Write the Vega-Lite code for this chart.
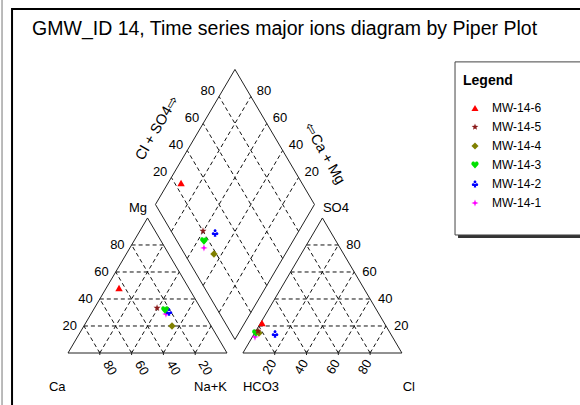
{
  "$schema": "https://vega.github.io/schema/vega-lite/v6.json",
  "width": 580,
  "height": 405,
  "padding": 0,
  "autosize": {"type": "none"},
  "background": "white",
  "config": {"view": {"stroke": null}, "font": "Liberation Sans", "text": {"font": "Liberation Sans", "color": "black"}},
  "datasets": {
    "frame": [{"x": -35.2, "y": 220.7, "x2": 330, "y2": -40}],
    "edge": [{"x": -41.5, "y": -40, "y2": 230}],
    "shadow": [{"x": 245.3, "y": 184.8, "x2": 330, "y2": 73.8}],
    "legbox": [{"x": 243.4, "y": 186.7, "x2": 330, "y2": 75.7}],
    "outline": [
      {"x": 0, "y": 0, "x2": 100, "y2": 0}, {"x": 100, "y": 0, "x2": 50, "y2": 86.6}, {"x": 50, "y": 86.6, "x2": 0, "y2": 0},
      {"x": 110, "y": 0, "x2": 210, "y2": 0}, {"x": 210, "y": 0, "x2": 160, "y2": 86.6}, {"x": 160, "y": 86.6, "x2": 110, "y2": 0},
      {"x": 105, "y": 8.66, "x2": 55, "y2": 95.26}, {"x": 55, "y": 95.26, "x2": 105, "y2": 181.87},
      {"x": 105, "y": 181.87, "x2": 155, "y2": 95.26}, {"x": 155, "y": 95.26, "x2": 105, "y2": 8.66}
    ],
    "grid": [
      {"x": 10, "y": 17.32, "x2": 90, "y2": 17.32}, {"x": 20, "y": 34.64, "x2": 80, "y2": 34.64}, {"x": 30, "y": 51.96, "x2": 70, "y2": 51.96}, {"x": 40, "y": 69.28, "x2": 60, "y2": 69.28},
      {"x": 20, "y": 0, "x2": 60, "y2": 69.28}, {"x": 40, "y": 0, "x2": 70, "y2": 51.96}, {"x": 60, "y": 0, "x2": 80, "y2": 34.64}, {"x": 80, "y": 0, "x2": 90, "y2": 17.32},
      {"x": 20, "y": 0, "x2": 10, "y2": 17.32}, {"x": 40, "y": 0, "x2": 20, "y2": 34.64}, {"x": 60, "y": 0, "x2": 30, "y2": 51.96}, {"x": 80, "y": 0, "x2": 40, "y2": 69.28},
      {"x": 120, "y": 17.32, "x2": 200, "y2": 17.32}, {"x": 130, "y": 34.64, "x2": 190, "y2": 34.64}, {"x": 140, "y": 51.96, "x2": 180, "y2": 51.96}, {"x": 150, "y": 69.28, "x2": 170, "y2": 69.28},
      {"x": 130, "y": 0, "x2": 170, "y2": 69.28}, {"x": 150, "y": 0, "x2": 180, "y2": 51.96}, {"x": 170, "y": 0, "x2": 190, "y2": 34.64}, {"x": 190, "y": 0, "x2": 200, "y2": 17.32},
      {"x": 130, "y": 0, "x2": 120, "y2": 17.32}, {"x": 150, "y": 0, "x2": 130, "y2": 34.64}, {"x": 170, "y": 0, "x2": 140, "y2": 51.96}, {"x": 190, "y": 0, "x2": 150, "y2": 69.28},
      {"x": 115, "y": 25.98, "x2": 65, "y2": 112.58}, {"x": 125, "y": 43.3, "x2": 75, "y2": 129.9}, {"x": 135, "y": 60.62, "x2": 85, "y2": 147.22}, {"x": 145, "y": 77.94, "x2": 95, "y2": 164.54},
      {"x": 95, "y": 25.98, "x2": 145, "y2": 112.58}, {"x": 85, "y": 43.3, "x2": 135, "y2": 129.9}, {"x": 75, "y": 60.62, "x2": 125, "y2": 147.22}, {"x": 65, "y": 77.94, "x2": 115, "y2": 164.54}
    ],
    "ticks": [
      {"x": 20, "y": 1, "y2": -1.3}, {"x": 40, "y": 1, "y2": -1.3}, {"x": 60, "y": 1, "y2": -1.3}, {"x": 80, "y": 1, "y2": -1.3},
      {"x": 130, "y": 1, "y2": -1.3}, {"x": 150, "y": 1, "y2": -1.3}, {"x": 170, "y": 1, "y2": -1.3}, {"x": 190, "y": 1, "y2": -1.3}
    ],
    "title": [{"x": -22.6, "y": 204, "text": "GMW_ID 14, Time series major ions diagram by Piper Plot"}],
    "namesL": [{"x": -12, "y": -24.4, "text": "Ca"}, {"x": 110, "y": -24.4, "text": "HCO3"}, {"x": 210.5, "y": -24.4, "text": "Cl"}, {"x": 160.3, "y": 90.4, "text": "SO4"}],
    "namesR": [{"x": 100, "y": -24.4, "text": "Na+K"}, {"x": 49.7, "y": 90.4, "text": "Mg"}],
    "mgLab": [{"x": 10, "y": 17.32, "text": "20"}, {"x": 20, "y": 34.64, "text": "40"}, {"x": 30, "y": 51.96, "text": "60"}, {"x": 40, "y": 69.28, "text": "80"}],
    "so4Lab": [{"x": 200, "y": 17.32, "text": "20"}, {"x": 190, "y": 34.64, "text": "40"}, {"x": 180, "y": 51.96, "text": "60"}, {"x": 170, "y": 69.28, "text": "80"}],
    "caLab": [{"x": 20, "y": 0, "text": "80"}, {"x": 40, "y": 0, "text": "60"}, {"x": 60, "y": 0, "text": "40"}, {"x": 80, "y": 0, "text": "20"}],
    "clLab": [{"x": 130, "y": 0, "text": "20"}, {"x": 150, "y": 0, "text": "40"}, {"x": 170, "y": 0, "text": "60"}, {"x": 190, "y": 0, "text": "80"}],
    "dLLab": [{"x": 65, "y": 112.58, "text": "20"}, {"x": 75, "y": 129.9, "text": "40"}, {"x": 85, "y": 147.22, "text": "60"}, {"x": 95, "y": 164.54, "text": "80"}],
    "dRLab": [{"x": 145, "y": 112.58, "text": "20"}, {"x": 135, "y": 129.9, "text": "40"}, {"x": 125, "y": 147.22, "text": "60"}, {"x": 115, "y": 164.54, "text": "80"}],
    "dLTitle": [{"x": 76.5, "y": 132.5, "text": "Cl + SO4⇨"}],
    "dRTitle": [{"x": 142.5, "y": 116.9, "text": "⇦Ca + Mg"}],
    "samples": [
      {"well": "MW-14-1", "x": 61.6, "y": 25.0}, {"well": "MW-14-1", "x": 117.6, "y": 10.3}, {"well": "MW-14-1", "x": 85.5, "y": 67.4},
      {"well": "MW-14-2", "x": 63.5, "y": 26.3}, {"well": "MW-14-2", "x": 130.2, "y": 12.2}, {"well": "MW-14-2", "x": 92.5, "y": 77.0},
      {"well": "MW-14-3", "x": 61.0, "y": 27.6}, {"well": "MW-14-3", "x": 118.2, "y": 12.8}, {"well": "MW-14-3", "x": 85.5, "y": 71.8},
      {"well": "MW-14-4", "x": 65.4, "y": 17.3}, {"well": "MW-14-4", "x": 120.1, "y": 12.8}, {"well": "MW-14-4", "x": 91.8, "y": 63.5},
      {"well": "MW-14-5", "x": 56.0, "y": 28.9}, {"well": "MW-14-5", "x": 119.5, "y": 14.1}, {"well": "MW-14-5", "x": 84.9, "y": 78.3},
      {"well": "MW-14-6", "x": 32.1, "y": 41.7}, {"well": "MW-14-6", "x": 122.0, "y": 19.2}, {"well": "MW-14-6", "x": 71.1, "y": 109.0}
    ]
  },
  "encoding": {
    "x": {"field": "x", "type": "quantitative", "scale": {"domain": [-42.77, 322.0], "nice": false, "zero": false}, "axis": null},
    "y": {"field": "y", "type": "quantitative", "scale": {"domain": [-33.35, 226.4], "nice": false, "zero": false}, "axis": null}
  },
  "layer": [
    {"data": {"name": "edge"}, "mark": {"type": "rule", "color": "#777777", "strokeWidth": 1}, "encoding": {"y2": {"field": "y2"}}},
    {"data": {"name": "frame"}, "mark": {"type": "rect", "fillOpacity": 0, "stroke": "black", "strokeWidth": 2}, "encoding": {"x2": {"field": "x2"}, "y2": {"field": "y2"}}},
    {"data": {"name": "shadow"}, "mark": {"type": "rect", "fill": "#333333"}, "encoding": {"x2": {"field": "x2"}, "y2": {"field": "y2"}}},
    {"data": {"name": "legbox"}, "mark": {"type": "rect", "fill": "white", "stroke": "#444444", "strokeWidth": 1}, "encoding": {"x2": {"field": "x2"}, "y2": {"field": "y2"}}},
    {"data": {"name": "grid"}, "mark": {"type": "rule", "color": "#111111", "strokeWidth": 1, "strokeDash": [4, 3]}, "encoding": {"x2": {"field": "x2"}, "y2": {"field": "y2"}}},
    {"data": {"name": "outline"}, "mark": {"type": "rule", "color": "#222222", "strokeWidth": 1}, "encoding": {"x2": {"field": "x2"}, "y2": {"field": "y2"}}},
    {"data": {"name": "ticks"}, "mark": {"type": "rule", "color": "#222222", "strokeWidth": 1}, "encoding": {"y2": {"field": "y2"}}},
    {"data": {"name": "title"}, "mark": {"type": "text", "align": "left", "baseline": "alphabetic", "fontSize": 19.5}, "encoding": {"text": {"field": "text"}}},
    {"data": {"name": "namesL"}, "mark": {"type": "text", "align": "left", "baseline": "alphabetic", "fontSize": 13}, "encoding": {"text": {"field": "text"}}},
    {"data": {"name": "namesR"}, "mark": {"type": "text", "align": "right", "baseline": "alphabetic", "fontSize": 13}, "encoding": {"text": {"field": "text"}}},
    {"data": {"name": "mgLab"}, "mark": {"type": "text", "align": "right", "baseline": "middle", "fontSize": 13, "dx": -7}, "encoding": {"text": {"field": "text"}}},
    {"data": {"name": "so4Lab"}, "mark": {"type": "text", "align": "left", "baseline": "middle", "fontSize": 13, "dx": 8}, "encoding": {"text": {"field": "text"}}},
    {"data": {"name": "caLab"}, "mark": {"type": "text", "align": "center", "baseline": "middle", "fontSize": 13, "angle": 60, "radius": 18, "theta": 2.553}, "encoding": {"text": {"field": "text"}}},
    {"data": {"name": "clLab"}, "mark": {"type": "text", "align": "center", "baseline": "middle", "fontSize": 13, "angle": -60, "radius": 14.9, "theta": 3.485}, "encoding": {"text": {"field": "text"}}},
    {"data": {"name": "dLLab"}, "mark": {"type": "text", "align": "right", "baseline": "middle", "fontSize": 13, "dx": -4, "dy": -5}, "encoding": {"text": {"field": "text"}}},
    {"data": {"name": "dRLab"}, "mark": {"type": "text", "align": "left", "baseline": "middle", "fontSize": 13, "dx": 6, "dy": -5}, "encoding": {"text": {"field": "text"}}},
    {"data": {"name": "dLTitle"}, "mark": {"type": "text", "align": "center", "baseline": "middle", "fontSize": 14.5, "angle": -60, "dy": -37}, "encoding": {"text": {"field": "text"}}},
    {"data": {"name": "dRTitle"}, "mark": {"type": "text", "align": "center", "baseline": "middle", "fontSize": 14.5, "angle": 60, "dy": -34}, "encoding": {"text": {"field": "text"}}},
    {
      "data": {"name": "samples"},
      "mark": {"type": "point", "filled": true, "opacity": 1, "size": 55, "strokeWidth": 0},
      "encoding": {
        "color": {
          "field": "well", "type": "nominal",
          "scale": {"domain": ["MW-14-6", "MW-14-5", "MW-14-4", "MW-14-3", "MW-14-2", "MW-14-1"], "range": ["#ff0000", "#8b1a1a", "#808000", "#00e000", "#0000ff", "#ff00ff"]},
          "legend": {"title": "Legend", "orient": "none", "legendX": 451, "legendY": 62, "padding": 12, "titleFontSize": 14, "titleFontWeight": "bold", "titleFont": "Liberation Sans", "titleColor": "black", "labelFont": "Liberation Sans", "labelFontSize": 12, "labelColor": "black", "symbolSize": 50, "rowPadding": 7, "titlePadding": 14, "symbolOffset": 6, "labelOffset": 11, "symbolStrokeWidth": 0}
        },
        "shape": {
          "field": "well", "type": "nominal",
          "scale": {"domain": ["MW-14-6", "MW-14-5", "MW-14-4", "MW-14-3", "MW-14-2", "MW-14-1"], "range": [
            "triangle-up",
            "M0,-1L0.235,-0.324L0.951,-0.309L0.38,0.124L0.588,0.809L0,0.4L-0.588,0.809L-0.38,0.124L-0.951,-0.309L-0.235,-0.324Z",
            "M-1,0L0,-1L1,0L0,1Z",
            "M0,1L-0.9,0C-1.2,-0.4,-0.9,-1,-0.45,-1C-0.2,-1,0,-0.8,0,-0.6C0,-0.8,0.2,-1,0.45,-1C0.9,-1,1.2,-0.4,0.9,0Z",
            "M0,-1A0.4,0.4,0,1,1,0,-0.2A0.4,0.4,0,1,1,0,-1ZM-0.5,-0.2A0.4,0.4,0,1,1,-0.5,0.6A0.4,0.4,0,1,1,-0.5,-0.2ZM0.5,-0.2A0.4,0.4,0,1,1,0.5,0.6A0.4,0.4,0,1,1,0.5,-0.2ZM-0.15,0L0.15,0L0.35,1L-0.35,1Z",
            "M0,-1L0.25,-0.25L1,0L0.25,0.25L0,1L-0.25,0.25L-1,0L-0.25,-0.25Z"
          ]},
          "legend": {"title": "Legend", "orient": "none", "legendX": 451, "legendY": 62, "padding": 12, "titleFontSize": 14, "titleFontWeight": "bold", "titleFont": "Liberation Sans", "titleColor": "black", "labelFont": "Liberation Sans", "labelFontSize": 12, "labelColor": "black", "symbolSize": 50, "rowPadding": 7, "titlePadding": 14, "symbolOffset": 6, "labelOffset": 11, "symbolStrokeWidth": 0}
        }
      }
    }
  ]
}
